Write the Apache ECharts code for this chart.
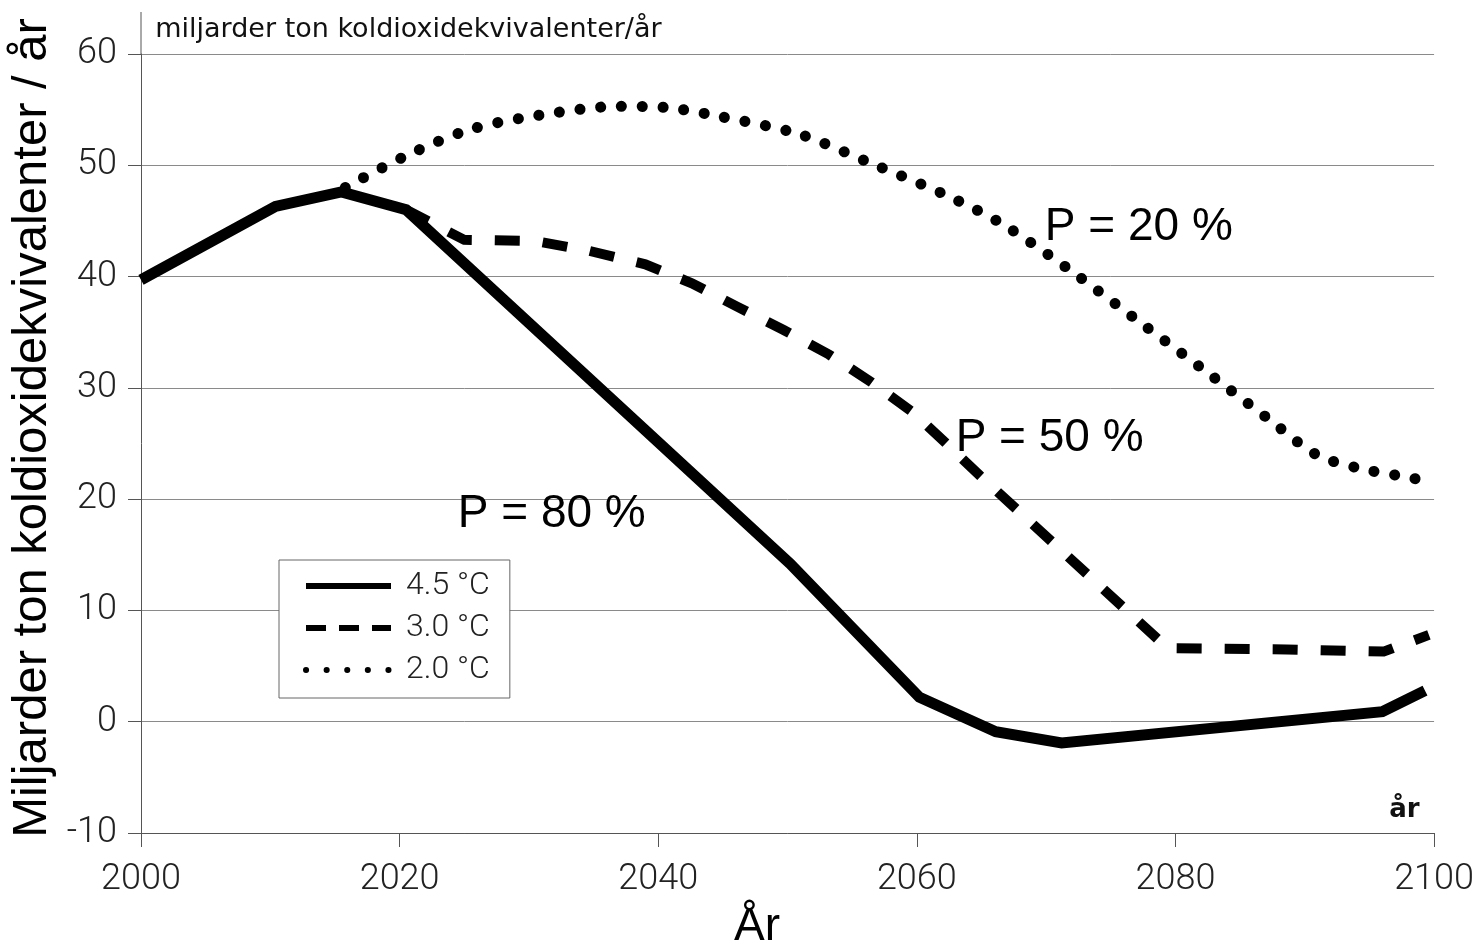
<!DOCTYPE html>
<html><head><meta charset="utf-8">
<script src="https://cdn.jsdelivr.net/npm/echarts@6/dist/echarts.min.js"></script>
<style>html,body{margin:0;padding:0;background:#fff}#c{width:1477px;height:949px}</style>
</head><body><div id="c"></div>
<script>
// ---- data ----
const xTicks = [2000, 2020, 2040, 2060, 2080, 2100];
const yTicks = [-10, 0, 10, 20, 30, 40, 50, 60];
const seriesNames = ['4.5 °C', '3.0 °C', '2.0 °C'];
const annotationTexts = ['P = 20 %', 'P = 50 %', 'P = 80 %'];
const yTitle = 'Miljarder ton koldioxidekvivalenter / år';
const xTitle = 'År';
const unitText = 'miljarder ton koldioxidekvivalenter/år';
const xUnitText = 'år';

const years45  = [2000, 2010.4, 2015.5, 2020.5, 2050.2, 2060.2, 2066.1, 2071.2, 2096.0, 2099.3];
const values45 = [39.7, 46.3, 47.6, 46.0, 14.2, 2.2, -0.9, -1.9, 0.9, 2.8];

const years30  = [2020.5, 2025.0, 2030.5, 2034.7, 2039.0, 2042.6, 2046.1, 2049.7, 2053.2, 2056.5, 2059.7, 2062.0, 2064.8, 2079.4, 2088.6, 2096.1, 2099.6];
const values30 = [46.0, 43.3, 43.2, 42.3, 41.1, 39.4, 37.3, 35.2, 33.0, 30.5, 27.8, 25.3, 22.2, 6.6, 6.5, 6.3, 7.8];

const years20  = [2015.8, 2020.4, 2025.4, 2030.8, 2037.0, 2040.5, 2044.7, 2050.9, 2056.2, 2062.1, 2066.5, 2071.7, 2076.9, 2082.1, 2087.2, 2090.9, 2094.1, 2097.3, 2099.2];
const values20 = [48.0, 50.8, 53.2, 54.5, 55.3, 55.2, 54.4, 52.8, 50.3, 47.4, 44.8, 40.7, 36.2, 31.7, 27.2, 24.0, 22.8, 22.1, 21.7];

// ---- chart ----
const zip = (xs, ys) => xs.map((x, i) => [x, ys[i]]);
const chart = echarts.init(document.getElementById('c'), null, {renderer: 'canvas'});
const tickFont = 'Roboto, "DejaVu Sans", sans-serif';
const gridColor = '#8a8a8a';
const axisColor = '#555';
const hiddenSymbol = {opacity: 0, color: 'rgba(0,0,0,0)', borderWidth: 0};

chart.setOption({
  animation: false,
  backgroundColor: '#fff',
  grid: {left: 141, right: 42, top: 54, bottom: 116, containLabel: false},
  xAxis: {
    type: 'value',
    min: xTicks[0], max: xTicks[xTicks.length - 1], interval: xTicks[1] - xTicks[0],
    axisLine: {show: true, onZero: false, lineStyle: {color: axisColor, width: 1}},
    axisTick: {show: true, length: 14, lineStyle: {color: axisColor, width: 1}},
    splitLine: {show: false},
    axisLabel: {margin: 29, color: '#222', fontSize: 36, fontWeight: 300, fontFamily: tickFont,
      formatter: v => String(v)}
  },
  yAxis: {
    type: 'value',
    min: yTicks[0], max: yTicks[yTicks.length - 1], interval: yTicks[1] - yTicks[0],
    axisLine: {show: true, lineStyle: {color: axisColor, width: 1}},
    axisTick: {show: true, length: 13, lineStyle: {color: axisColor, width: 1}},
    splitLine: {show: true, lineStyle: {color: gridColor, width: 1}},
    axisLabel: {margin: 24, color: '#222', fontSize: 36, fontWeight: 300, fontFamily: tickFont}
  },
  legend: {
    show: true, orient: 'vertical', left: 279, top: 560,
    backgroundColor: '#fff', borderColor: '#666', borderWidth: 1, borderRadius: 0,
    padding: [10, 20, 12, 24],
    itemWidth: 85, itemHeight: 28, itemGap: 10,
    textStyle: {fontSize: 32, fontWeight: 300, fontFamily: tickFont, color: '#222', padding: [0, 0, 0, 10], lineHeight: 28},
    data: [
      {name: seriesNames[0], itemStyle: hiddenSymbol, lineStyle: {width: 6, type: 'solid'}},
      {name: seriesNames[1], itemStyle: hiddenSymbol, lineStyle: {width: 6, type: [20, 13], cap: 'butt'}},
      {name: seriesNames[2], itemStyle: hiddenSymbol, lineStyle: {width: 6, type: [0.1, 20.5], cap: 'round'}}
    ]
  },
  series: [
    {name: seriesNames[0], type: 'line', data: zip(years45, values45), symbol: 'none',
      lineStyle: {color: '#000', width: 11, type: 'solid', join: 'miter'}, itemStyle: {color: '#000'}, z: 3},
    {name: seriesNames[1], type: 'line', data: zip(years30, values30), symbol: 'none',
      lineStyle: {color: '#000', width: 10, type: [25, 23], cap: 'butt', join: 'miter'}, itemStyle: {color: '#000'}, z: 3},
    {name: seriesNames[2], type: 'line', data: zip(years20, values20), symbol: 'none', smooth: 0.3,
      lineStyle: {color: '#000', width: 11, type: [0.1, 20.7], cap: 'round'}, itemStyle: {color: '#000'}, z: 3}
  ]
});

// ---- texts and axis extension, placed via the chart's own scales ----
const px = (x, y) => chart.convertToPixel({gridIndex: 0}, [x, y]);
const top60 = px(xTicks[0], yTicks[yTicks.length - 1]);
const p20 = px(2069.9, 44.4);
const p50 = px(2063.0, 25.5);
const p80 = px(2024.5, 18.6);
const unitPos = px(2001.1, 62.2);
const xUnitPos = px(2097.7, -8.0);
const annoStyle = {fontSize: 46, fontFamily: '"Liberation Sans", Arial, sans-serif', fill: '#000', textVerticalAlign: 'middle', textAlign: 'left'};

chart.setOption({
  graphic: [
    {type: 'line', silent: true, shape: {x1: top60[0], y1: 12, x2: top60[0], y2: top60[1]}, style: {stroke: axisColor, lineWidth: 1}},
    {type: 'text', x: unitPos[0], y: unitPos[1], style: {text: unitText, fontSize: 27, fontFamily: '"DejaVu Sans", sans-serif', fill: '#111', textVerticalAlign: 'middle'}},
    {type: 'text', x: xUnitPos[0], y: xUnitPos[1], style: {text: xUnitText, fontSize: 26, fontWeight: 'bold', fontFamily: '"DejaVu Sans", sans-serif', fill: '#111', textAlign: 'center', textVerticalAlign: 'middle'}},
    {type: 'text', x: p20[0], y: p20[1], z: 10, style: Object.assign({text: annotationTexts[0]}, annoStyle)},
    {type: 'text', x: p50[0], y: p50[1], z: 10, style: Object.assign({text: annotationTexts[1]}, annoStyle)},
    {type: 'text', x: p80[0], y: p80[1], z: 10, style: Object.assign({text: annotationTexts[2]}, annoStyle)},
    {type: 'text', x: 32, y: 428, rotation: Math.PI / 2, style: {text: yTitle, fontSize: 49, fontFamily: '"Liberation Sans", Arial, sans-serif', fill: '#000', textAlign: 'center', textVerticalAlign: 'middle'}},
    {type: 'text', x: 757, y: 927, style: {text: xTitle, fontSize: 46, fontFamily: '"Liberation Sans", Arial, sans-serif', fill: '#000', textAlign: 'center', textVerticalAlign: 'middle'}}
  ]
});
</script>
</body></html>
